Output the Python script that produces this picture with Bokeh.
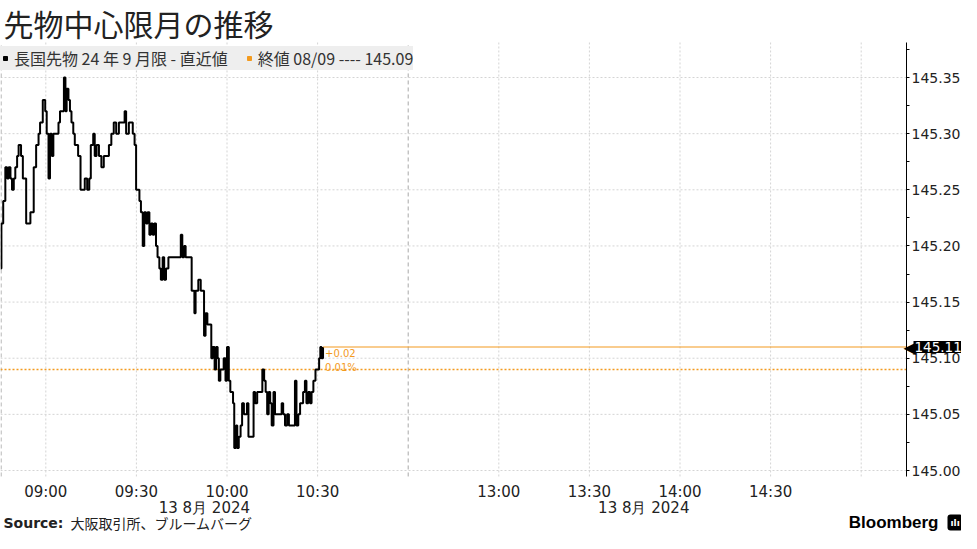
from bokeh.plotting import figure
from bokeh.models import FixedTicker, Label, NumeralTickFormatter, Range1d, Legend, LegendItem
from bokeh.embed import file_html
from bokeh.resources import INLINE

# ---------------- data ----------------
title_text = "先物中心限月の推移"
series_name = "長国先物 24 年 9 月限 - 直近値"
prev_close_name = "終値 08/09 ---- 145.09"
prev_close = 145.09
change_text = "+0.02"
change_pct_text = "0.01%"
date_label = "13 8月 2024"
source_bold = "Source:"
source_text = "大阪取引所、ブルームバーグ"
brand = "Bloomberg"

# trading minutes since 08:45 (lunch break 11:00-12:30 removed)
minutes = [0, 0.3, 0.9, 1.6, 2.2, 2.7, 3.3, 3.8, 4.4, 4.9, 5.5, 6.0, 6.8, 7.4, 8.5, 9.3, 9.9, 10.4,
           11.0, 11.8, 12.6, 13.1, 14.0, 14.8, 15.3, 15.9, 16.4, 17.0, 17.5, 18.4, 19.2, 19.7, 20.4,
           21.0, 21.5, 21.9, 22.5, 23.0, 23.5, 24.1, 24.6, 25.7, 26.5, 27.4, 27.9, 28.7, 29.4, 29.9,
           30.7, 31.2, 31.8, 32.6, 33.4, 34.2, 35.0, 35.9, 36.7, 37.5, 38.3, 39.2, 40.1, 41.1, 41.6,
           42.5, 43.3, 43.8, 44.4, 44.9, 46.0, 46.5, 47.1, 47.6, 48.2, 48.7, 49.3, 49.8, 50.4, 50.9,
           51.5, 52.0, 52.6, 53.1, 53.7, 54.2, 54.8, 55.6, 57.0, 59.1, 59.7, 60.2, 60.8, 61.3, 62.7,
           63.3, 63.9, 64.2, 64.6, 65.5, 66.3, 67.0, 67.4, 67.9, 68.5, 69.2, 69.8, 70.3, 70.9, 71.4,
           71.9, 72.3, 72.8, 73.9, 74.5, 75.0, 75.6, 76.1, 77.0, 77.4, 78.0, 78.4, 78.9, 79.5, 80.0,
           80.6, 81.6, 82.1, 83.2, 83.8, 84.3, 85.0, 86.0, 86.7, 87.3, 87.8, 88.3, 88.8, 89.3, 89.8,
           90.4, 90.9, 92.2, 93.1, 93.6, 94.2, 94.9, 95.5, 96.6, 97.5, 98.0, 98.6, 99.2, 100.2, 100.8,
           101.3, 101.9, 102.5, 103.0, 103.6, 104.3, 104.9, 105.5, 105.9, 106.3, 106.8]
prices = [145.18, 145.22, 145.24, 145.27, 145.26, 145.27, 145.26, 145.25, 145.26, 145.27, 145.28,
          145.29, 145.28, 145.26, 145.22, 145.22, 145.23, 145.23,
          145.27, 145.29, 145.30, 145.31, 145.33, 145.32, 145.30, 145.26, 145.30, 145.28, 145.30,
          145.30, 145.31, 145.32, 145.32,
          145.35, 145.32, 145.34, 145.33, 145.32, 145.31, 145.30, 145.29, 145.28, 145.25, 145.25,
          145.26, 145.25, 145.26, 145.29,
          145.30, 145.28, 145.29, 145.28, 145.27, 145.28, 145.28, 145.29, 145.30, 145.31, 145.30,
          145.31, 145.31, 145.32, 145.30,
          145.31, 145.31, 145.30, 145.29, 145.25, 145.24, 145.23, 145.20, 145.23, 145.22, 145.23,
          145.21, 145.22, 145.21, 145.22,
          145.20, 145.19, 145.18, 145.17, 145.19, 145.17, 145.18, 145.19, 145.19, 145.19, 145.21,
          145.19, 145.20, 145.19, 145.19,
          145.16, 145.16, 145.14, 145.16, 145.17, 145.16, 145.16, 145.12, 145.14, 145.13, 145.13,
          145.10, 145.11, 145.09, 145.11,
          145.10, 145.08, 145.09, 145.10, 145.08, 145.11, 145.08, 145.07, 145.06, 145.02, 145.04,
          145.02, 145.03, 145.04, 145.06,
          145.05, 145.06, 145.03, 145.03, 145.07, 145.06, 145.07, 145.07, 145.09, 145.08, 145.07,
          145.05, 145.07, 145.06, 145.04,
          145.07, 145.05, 145.05, 145.06, 145.05, 145.04, 145.05, 145.04, 145.04, 145.08, 145.04,
          145.05, 145.06, 145.07, 145.08,
          145.06, 145.07, 145.06, 145.07, 145.08, 145.09, 145.09, 145.10, 145.11, 145.10, 145.11]

x_tick_positions = [15, 45, 75, 105, 165, 195, 225, 255, 285]
x_tick_labels = ["09:00", "09:30", "10:00", "10:30", "13:00", "13:30", "14:00", "14:30", ""]
session_breaks = [0.2, 135]
date_label_positions = [67.5, 213]
y_ticks = [145.00, 145.05, 145.10, 145.15, 145.20, 145.25, 145.30, 145.35]
y_minor = [145.025, 145.075, 145.125, 145.175, 145.225, 145.275, 145.325, 145.375]

# ---------------- layout / style ----------------
ORANGE = "#f39a1e"
GRID = "#d4d4d4"
TXT = "#222222"
W, H = 961, 533
X_END = 300                      # end of the session axis (right axis position)
X_VIEW = X_END * W / 906.0       # canvas extends past the axis for its labels
Y_BOTTOM_VIEW, Y_TOP_VIEW = 144.9439, 145.4186
PLOT_BOTTOM, PLOT_TOP = 144.9947, 145.3812

p = figure(width=W, height=H, output_backend="svg", toolbar_location=None,
           x_range=Range1d(0, X_VIEW), y_range=Range1d(Y_BOTTOM_VIEW, Y_TOP_VIEW),
           y_axis_location="right", x_axis_location="below", min_border=0,
           outline_line_color=None)
p.border_fill_color = "white"
p.background_fill_color = "white"
p.xgrid.visible = False
p.ygrid.visible = False

# x axis (fixed at the bottom of the chart area)
p.xaxis.fixed_location = PLOT_BOTTOM
p.xaxis.ticker = FixedTicker(ticks=x_tick_positions)
p.xaxis.major_label_overrides = {t: l for t, l in zip(x_tick_positions, x_tick_labels)}
p.xaxis.axis_line_color = None
p.xaxis.major_tick_line_color = None
p.xaxis.minor_tick_line_color = None
p.xaxis.major_label_standoff = 1
p.xaxis.major_label_text_font = "DejaVu Sans"
p.xaxis.major_label_text_font_size = "15px"
p.xaxis.major_label_text_color = TXT

# y axis (fixed at the session end)
p.yaxis.fixed_location = X_END
p.yaxis.bounds = (PLOT_BOTTOM, PLOT_TOP)
p.yaxis.ticker = FixedTicker(ticks=y_ticks, minor_ticks=y_minor)
p.yaxis.formatter = NumeralTickFormatter(format="0.00")
p.yaxis.axis_line_color = "black"
p.yaxis.major_tick_line_color = "black"
p.yaxis.minor_tick_line_color = "black"
p.yaxis.major_tick_out = 3
p.yaxis.major_tick_in = 0
p.yaxis.minor_tick_out = 3
p.yaxis.minor_tick_in = 0
p.yaxis.major_label_standoff = 2
p.yaxis.major_label_text_font = "DejaVu Sans"
p.yaxis.major_label_text_font_size = "14px"
p.yaxis.major_label_text_color = TXT

# grid lines (limited to the chart area)
p.segment(x0=x_tick_positions, y0=PLOT_BOTTOM, x1=x_tick_positions, y1=PLOT_TOP,
          line_color=GRID, line_dash="2 2", line_width=1)
p.segment(x0=0, y0=y_ticks, x1=X_END, y1=y_ticks,
          line_color=GRID, line_dash="2 2", line_width=1)
p.segment(x0=session_breaks, y0=PLOT_BOTTOM, x1=session_breaks, y1=PLOT_TOP,
          line_color="#a8a8a8", line_dash="4 3", line_width=1)

# previous close dotted line
p.segment(x0=[0], y0=[prev_close], x1=[X_END], y1=[prev_close],
          line_color=ORANGE, line_dash="2 2", line_width=1.5)

# price line
p.step(minutes, prices, mode="after", line_color="black", line_width=2)

# last value line
p.segment(x0=[minutes[-1]], y0=[prices[-1]], x1=[X_END], y1=[prices[-1]],
          line_color=ORANGE, line_width=1.2)

p.add_layout(Label(x=minutes[-1], y=prices[-1], text=change_text, x_offset=2, y_offset=-6,
                   text_font="DejaVu Sans", text_font_size="10px",
                   text_color=ORANGE, text_baseline="middle"))
p.add_layout(Label(x=minutes[-1], y=prev_close, text=change_pct_text, x_offset=2, y_offset=2,
                   text_font="DejaVu Sans", text_font_size="10px",
                   text_color=ORANGE, text_baseline="middle"))

# last value callout
p.add_layout(Label(x=X_END, y=prices[-1], text="◀", x_offset=-3, text_color="black",
                   text_font="DejaVu Sans", text_font_size="16px",
                   text_baseline="middle", text_align="left"))
p.add_layout(Label(x=X_END, y=prices[-1], text=f"{prices[-1]:.2f}", x_offset=7,
                   text_color="white", background_fill_color="black",
                   text_font="DejaVu Sans", text_font_size="13.5px",
                   text_baseline="middle", text_align="left", padding=1))

# legend
r1 = p.scatter(x=[-50], y=[145.2], marker="square", size=10, color="black")
r2 = p.scatter(x=[-50], y=[145.2], marker="square", size=10, color=ORANGE)
legend = Legend(items=[LegendItem(label=series_name, renderers=[r1]),
                       LegendItem(label=prev_close_name, renderers=[r2])],
                location=(0, 463), orientation="horizontal",
                background_fill_color="#eeeeee", background_fill_alpha=1.0,
                border_line_color=None, margin=0, padding=9, spacing=16,
                glyph_width=10, glyph_height=10, label_standoff=4,
                label_text_font="Noto Sans CJK JP", label_text_font_size="16px",
                label_text_color="#333333")
p.add_layout(legend)

# title
p.add_layout(Label(x=0, y=511, x_offset=3, x_units="data", y_units="screen", text=title_text,
                   text_font="Noto Sans CJK JP", text_font_size="30px",
                   text_color=TXT, text_baseline="middle", text_align="left"))

# date labels
for xp in date_label_positions:
    p.add_layout(Label(x=xp, y=26, x_units="data", y_units="screen", text=date_label,
                       text_font="DejaVu Sans", text_font_size="15px",
                       text_color=TXT, text_baseline="middle", text_align="center"))

# source
p.add_layout(Label(x=0, y=11, x_offset=3, x_units="data", y_units="screen", text=source_bold,
                   text_font="DejaVu Sans", text_font_size="14px", text_font_style="bold",
                   text_color=TXT, text_baseline="middle", text_align="left"))
p.add_layout(Label(x=0, y=11, x_offset=70, x_units="data", y_units="screen", text=source_text,
                   text_font="Noto Sans CJK JP", text_font_size="14px",
                   text_color=TXT, text_baseline="middle", text_align="left"))

# brand
p.add_layout(Label(x=X_END, y=11, x_offset=32, x_units="data", y_units="screen", text=brand,
                   text_font="Liberation Sans", text_font_size="17px", text_font_style="bold",
                   text_color="black", text_baseline="middle", text_align="right"))
p.add_layout(Label(x=X_END, y=11, x_offset=41, x_units="data", y_units="screen", text="ılı",
                   text_font="DejaVu Sans", text_font_size="9px", text_font_style="bold",
                   text_color="white", background_fill_color="black", padding=3,
                   border_radius=3, text_baseline="middle", text_align="left"))

open("out.html", "w").write(file_html(p, INLINE))
